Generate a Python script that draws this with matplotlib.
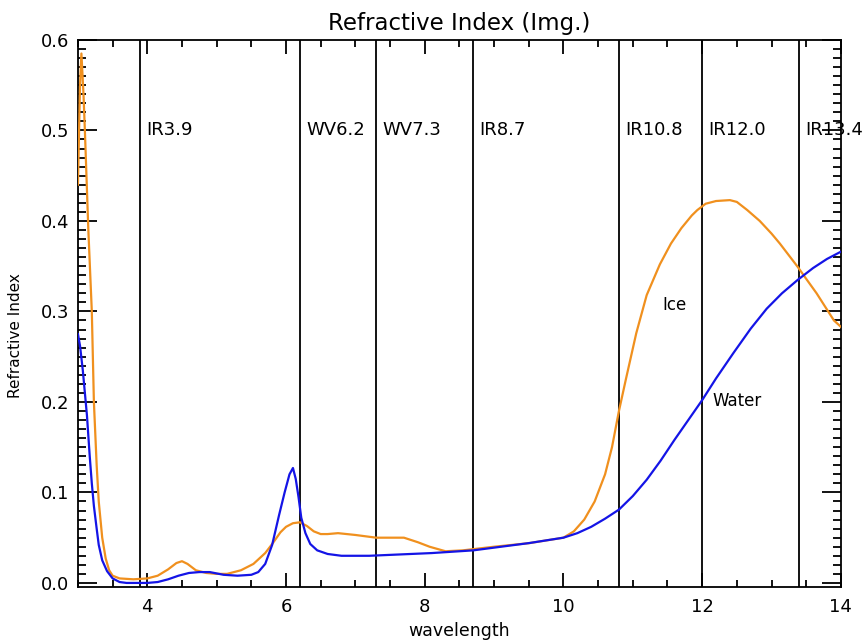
import matplotlib
matplotlib.use("Agg")
import matplotlib.pyplot as plt
from matplotlib.ticker import MultipleLocator

# ---- data ----
ice_wl = [3.0, 3.03, 3.05, 3.08, 3.1, 3.15, 3.2, 3.23, 3.27, 3.3, 3.35, 3.4, 3.45, 3.5,
          3.6, 3.8, 4.0, 4.15, 4.3, 4.42, 4.5, 4.58, 4.7, 4.85, 5.0, 5.15, 5.35, 5.53,
          5.7, 5.81, 5.92, 6.0, 6.1, 6.2, 6.3, 6.4, 6.5, 6.6, 6.75, 7.0, 7.3, 7.7, 7.9,
          8.07, 8.3, 8.55, 9.0, 9.51, 10.0, 10.15, 10.3, 10.45, 10.6, 10.7, 10.8, 10.9,
          11.05, 11.2, 11.39, 11.55, 11.7, 11.85, 11.93, 12.05, 12.2, 12.4, 12.5, 12.65,
          12.83, 13.0, 13.12, 13.25, 13.38, 13.5, 13.65, 13.8, 13.9, 14.0]
ice_k = [0.44, 0.55, 0.585, 0.54, 0.50, 0.39, 0.30, 0.20, 0.13, 0.09, 0.05, 0.027, 0.014,
         0.008, 0.005, 0.004, 0.005, 0.008, 0.015, 0.022, 0.024, 0.021, 0.014, 0.011,
         0.010, 0.010, 0.014, 0.021, 0.033, 0.044, 0.056, 0.062, 0.066, 0.067, 0.063,
         0.057, 0.054, 0.054, 0.055, 0.053, 0.050, 0.050, 0.045, 0.040, 0.035, 0.036,
         0.040, 0.044, 0.050, 0.057, 0.070, 0.090, 0.120, 0.150, 0.190, 0.225, 0.276,
         0.318, 0.352, 0.375, 0.392, 0.406, 0.412, 0.419, 0.422, 0.423, 0.421, 0.412,
         0.400, 0.386, 0.375, 0.362, 0.349, 0.336, 0.320, 0.302, 0.290, 0.283]

water_wl = [3.0, 3.03, 3.07, 3.1, 3.13, 3.17, 3.2, 3.23, 3.27, 3.3, 3.35, 3.42, 3.5, 3.6,
            3.7, 4.0, 4.15, 4.3, 4.45, 4.6, 4.75, 4.9, 5.1, 5.3, 5.5, 5.6, 5.7, 5.8, 5.9,
            5.98, 6.05, 6.1, 6.14, 6.18, 6.22, 6.28, 6.35, 6.45, 6.6, 6.8, 7.2, 8.1, 8.7,
            9.5, 10.0, 10.2, 10.4, 10.6, 10.8, 11.0, 11.2, 11.4, 11.6, 11.8, 12.0, 12.2,
            12.45, 12.7, 12.93, 13.15, 13.38, 13.6, 13.8, 14.0]
water_k = [0.275, 0.262, 0.235, 0.21, 0.185, 0.14, 0.11, 0.085, 0.06, 0.042, 0.025, 0.013,
           0.005, 0.001, 0.0, 0.0, 0.001, 0.004, 0.008, 0.011, 0.012, 0.012, 0.009, 0.008,
           0.009, 0.012, 0.021, 0.042, 0.075, 0.100, 0.120, 0.127, 0.115, 0.095, 0.072,
           0.055, 0.043, 0.036, 0.032, 0.030, 0.030, 0.033, 0.036, 0.044, 0.050, 0.055,
           0.062, 0.071, 0.081, 0.096, 0.114, 0.135, 0.158, 0.180, 0.202, 0.226, 0.254,
           0.281, 0.303, 0.320, 0.335, 0.348, 0.358, 0.366]

channel_wl = [3.9, 6.2, 7.3, 8.7, 10.8, 12.0, 13.4]
channel_names = ["IR3.9", "WV6.2", "WV7.3", "IR8.7", "IR10.8", "IR12.0", "IR13.4"]

x_ticks = [4, 6, 8, 10, 12, 14]
y_ticks = [0.0, 0.1, 0.2, 0.3, 0.4, 0.5, 0.6]

plt.rcParams['font.family'] = ['DejaVu Sans']

fig = plt.figure(figsize=(8.66, 6.44), dpi=100)
ax = fig.add_axes([0.090, 0.0885, 0.881, 0.8495])

ice_color = "#F0901E"
water_color = "#1414E6"

ax.plot(ice_wl, ice_k, color=ice_color, lw=1.6, zorder=3)
ax.plot(water_wl, water_k, color=water_color, lw=1.6, zorder=3)

for wl, name in zip(channel_wl, channel_names):
    ax.axvline(wl, color="black", lw=1.3, zorder=2)
    ax.text(wl + 0.09, 0.5, name, fontsize=13, va="center", ha="left",
            clip_on=False, zorder=4)

ax.text(11.6, 0.307, "Ice", fontsize=12, ha="center", va="center")
ax.text(12.5, 0.201, "Water", fontsize=12, ha="center", va="center")

ax.set_xlim(3, 14)
ax.set_ylim(-0.0045, 0.6)
ax.set_xticks(x_ticks)
ax.set_xticklabels([str(t) for t in x_ticks])
ax.set_yticks(y_ticks)
ax.set_yticklabels([f"{t:.1f}" for t in y_ticks])
ax.xaxis.set_minor_locator(MultipleLocator(0.5))
ax.yaxis.set_minor_locator(MultipleLocator(0.01))

ax.tick_params(axis="both", which="both", direction="in", top=True, right=True,
               labelsize=13, width=1.3, color="black")
ax.tick_params(axis="x", which="major", length=10, pad=8)
ax.tick_params(axis="x", which="minor", length=5)
ax.tick_params(axis="y", which="major", length=14, pad=6)
ax.tick_params(axis="y", which="minor", length=6)

for s in ax.spines.values():
    s.set_linewidth(1.3)

ax.set_title("Refractive Index (Img.)", fontsize=16.5, pad=7)
ax.set_xlabel("wavelength", fontsize=12.5, labelpad=4)
ax.set_ylabel("Refractive Index", fontsize=11)
ax.yaxis.set_label_coords(-0.072, 0.46)

fig.savefig("out.png", dpi=100)
